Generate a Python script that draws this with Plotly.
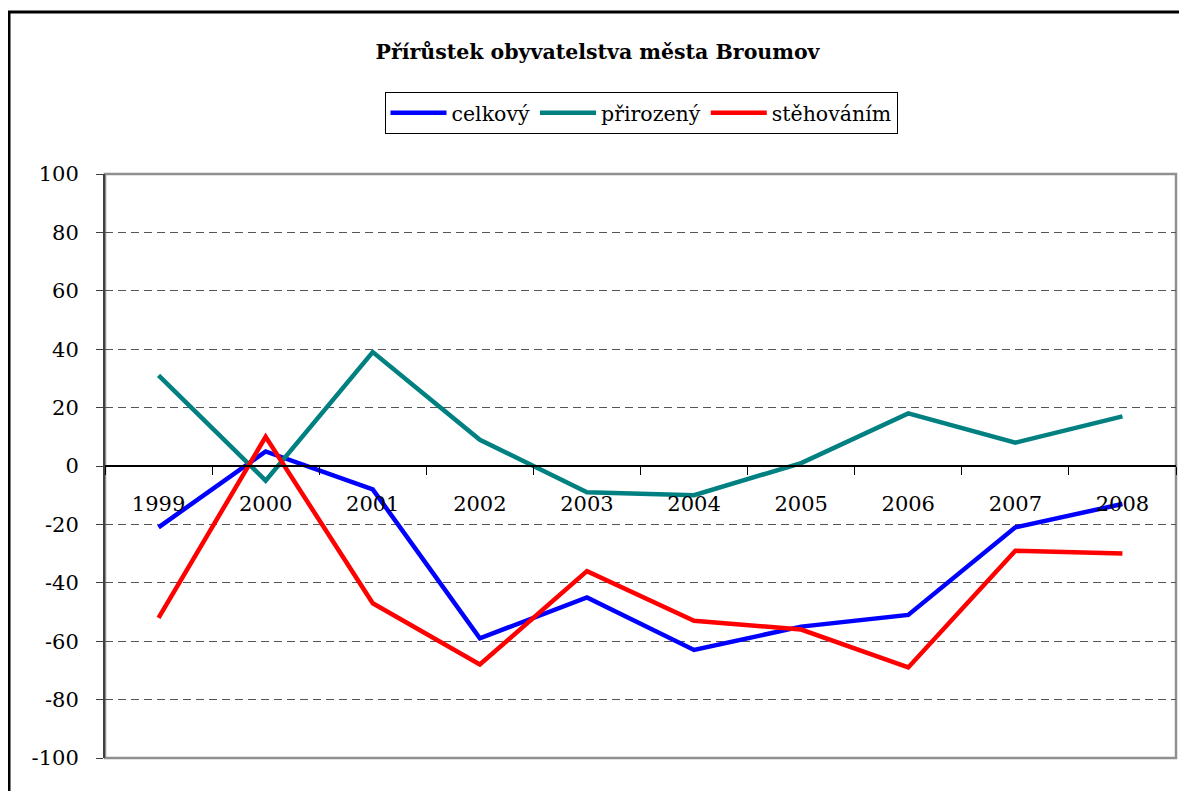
import plotly.graph_objects as go

years = ["1999", "2000", "2001", "2002", "2003", "2004", "2005", "2006", "2007", "2008"]
celkovy = [-21, 5, -8, -59, -45, -63, -55, -51, -21, -13]
prirozeny = [31, -5, 39, 9, -9, -10, 1, 18, 8, 17]
stehovanim = [-52, 10, -47, -68, -36, -53, -56, -69, -29, -30]
y_ticks = [-100, -80, -60, -40, -20, 0, 20, 40, 60, 80, 100]
y_tick_labels = ["-100", "-80", "-60", "-40", "-20", "0", "20", "40", "60", "80", "100"]

FONT = "DejaVu Serif"

# page body has an 8px margin, so the figure is 8px smaller and margins shifted
W, H = 1179, 783
ML, MR, MT, MB = 97, 11, 166, 33
PW = W - ML - MR
PH = H - MT - MB

fig = go.Figure()
fig.add_trace(go.Scatter(x=years, y=celkovy, mode="lines", name="celkový",
                         line=dict(color="#0000FF", width=4.5)))
fig.add_trace(go.Scatter(x=years, y=prirozeny, mode="lines", name="přirozený",
                         line=dict(color="#008080", width=4.5)))
fig.add_trace(go.Scatter(x=years, y=stehovanim, mode="lines", name="stěhováním",
                         line=dict(color="#FF0000", width=4.5)))

fig.update_layout(
    width=W, height=H,
    margin=dict(l=ML, r=MR, t=MT, b=MB, autoexpand=False),
    paper_bgcolor="white", plot_bgcolor="white",
    font=dict(family=FONT, size=21, color="black"),
    title=dict(text="<b>Přírůstek obyvatelstva města Broumov</b>",
               x=0.5, xanchor="center", y=1 - 44 / H, yanchor="middle",
               font=dict(family=FONT, size=20.5, color="black")),
    showlegend=True,
    legend=dict(orientation="h", x=(641 - 8 - ML) / PW, xanchor="center",
                y=(MT + PH - 105) / PH, yanchor="middle",
                bordercolor="black", borderwidth=1,
                font=dict(family=FONT, size=20.5),
                itemwidth=56, tracegroupgap=0),
    xaxis=dict(type="category", range=[-0.5, len(years) - 0.5],
               anchor="free", position=0.5, automargin=False,
               showline=True, linecolor="black", linewidth=1.5,
               ticks="outside", ticklen=8, tickcolor="black", tickwidth=1,
               tickson="boundaries", showgrid=False, zeroline=False,
               ticklabelstandoff=19,
               tickfont=dict(family=FONT, size=21)),
    yaxis=dict(range=[-100, 100], tickvals=y_ticks, ticktext=y_tick_labels,
               automargin=False,
               showline=True, linecolor="#404040", linewidth=2,
               ticks="outside", ticklen=7, tickcolor="#404040",
               ticklabelstandoff=13,
               showgrid=True, gridcolor="#555555", griddash="8px,5px", gridwidth=1,
               zeroline=False,
               tickfont=dict(family=FONT, size=21)),
)

# plot-area frame (gray)
fig.add_shape(type="rect", xref="paper", yref="paper", x0=0, x1=1, y0=0, y1=1,
              line=dict(color="#909090", width=2.5), layer="below")
# outer chart frame (black)
fig.add_shape(type="rect", xref="paper", yref="paper",
              x0=(1 - ML) / PW, x1=(W + 20 - ML) / PW,
              y0=(MT + PH - (H + 20)) / PH, y1=(MT + PH - 4) / PH,
              line=dict(color="black", width=3), layer="below")

fig.write_html("out.html")
